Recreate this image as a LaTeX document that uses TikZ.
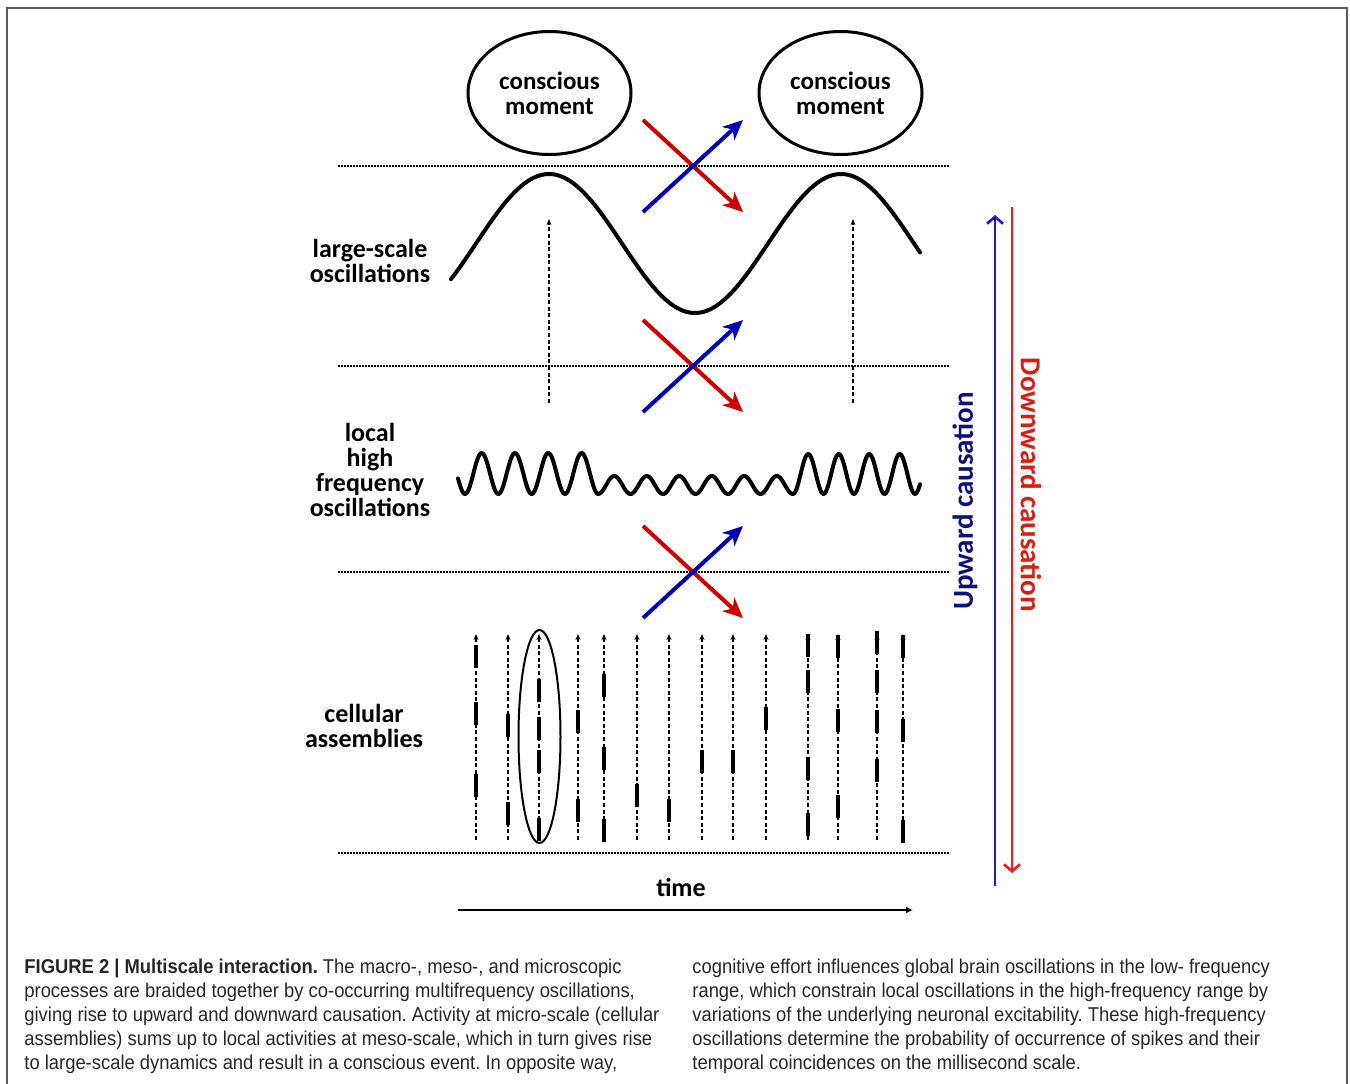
\documentclass[tikz,border=0pt]{standalone}
\usepackage{fontspec}
\setmainfont{Carlito}
\newfontfamily\capfont{Liberation Sans}[FakeStretch=0.92]
\usetikzlibrary{arrows.meta,positioning,shapes.geometric}
\frenchspacing
\definecolor{crossred}{RGB}{205,0,0}
\definecolor{crossblue}{RGB}{0,0,185}
\definecolor{sidered}{RGB}{240,25,25}
\definecolor{sideblue}{RGB}{25,25,200}
\definecolor{uptext}{RGB}{15,15,120}
\definecolor{downtext}{RGB}{215,30,20}
\tikzset{%
	scale label/.style={
		font=\fontsize{13}{12.5}\selectfont\bfseries,
		align=center,
		inner sep=0pt
	},
	moment/.style={
		ellipse,
		draw,
		line width=1.5pt,
		minimum width=81.5pt,
		minimum height=61.5pt,
		scale label,
		font=\fontsize{12.5}{12.5}\selectfont\bfseries
	},
	level line/.style={
		line width=0.6pt,
		dash pattern=on 0.8pt off 0.7pt
	},
	down arrow/.style={
		crossred,
		line width=2pt,
		-{Stealth[length=10pt,width=9pt,inset=3pt]}
	},
	up arrow/.style={
		crossblue,
		line width=2pt,
		-{Stealth[length=10pt,width=9pt,inset=3pt]}
	},
	pulse line/.style={
		line width=0.7pt,
		dash pattern=on 2pt off 1.3pt,
		-{Stealth[length=3pt,width=2.5pt]}
	},
	wave/.style={
		line width=2pt,
		line join=round,
		line cap=round
	},
	caption/.style={
		font=\capfont\fontsize{10}{12}\selectfont,
		text=black!85,
		inner sep=0pt
	},
}

\begin{document}
\begin{tikzpicture}[x=0.5pt, y=-0.5pt, >=stealth]
	
	\useasboundingbox (0,0) rectangle (1350,1083);
	\draw [black!65, line width=1pt] (7,1090) -- (7,8) -- (1347,8) -- (1347,1090);
	
	\node [moment] (moment-1) at (549.5,93) {conscious\\moment};
	\node [moment] (moment-2) at (840.5,93) {conscious\\moment};
	
	\foreach \y [count=\i] in {166,366,572,853}
	\draw [level line] (338,\y) coordinate (level-\i-w) -- (950,\y) coordinate (level-\i-e);
	
	\draw [wave] plot [domain=451:920, samples=150, smooth]
	(\x, {243.5-69.5*cos((\x-549)/292*360)});
	
	\foreach \x in {549,853}
	\draw [pulse line] (\x,403) -- (\x,219);
	
	\draw [wave] plot [domain=458:920, samples=400]
	(\x, {\x<598 ? 473.5-20.5*cos((\x-481.7)/33.3*360)
		: (\x<793 ? 485-9*cos((\x-614.25)/32.5*360)
		: 474-20*cos((\x-808.25)/30.5*360))});
	
	\foreach \y [count=\i] in {166,366,572} {
		\coordinate (cross-\i) at (693,\y);
		\draw [down arrow] ([shift={(-50,-46)}]cross-\i) -- ([shift={(50,46)}]cross-\i);
		\draw [up arrow] ([shift={(-50,46)}]cross-\i) -- ([shift={(50,-46)}]cross-\i);
	}
	
	\foreach \x/\ys [count=\i] in {476/{656,713,785}, 508/{725,813}, 539/{690,728,761,829},
		578/{721,810}, 604/{685,758,830}, 637/{795}, 669/{810}, 702/{761}, 733/{761},
		766/{718}, 808/{645,681,768,824}, 838/{646,720,806}, 877/{642,681,721,770},
		903/{646,730,831}} {
		\draw [pulse line] (\x,840) coordinate (cell-\i-s) -- (\x,634) coordinate (cell-\i-n);
		\foreach \yy in \ys
		\fill (\x-2,\yy-11.5) rectangle (\x+2,\yy+11.5);
	}
	\node [ellipse, draw, line width=1pt, minimum width=21pt, minimum height=106.5pt, inner sep=0pt] (sync) at (539.5,736.5) {};
	
	\node [scale label] (large-lbl) at (370,261) {large-scale\\oscillations};
	\node [scale label] (local-lbl) at (370,470) {local\\high\\frequency\\oscillations};
	\node [scale label] (cell-lbl) at (364,726) {cellular\\assemblies};
	
	\node [scale label] (time-lbl) at (681,887) {time};
	\draw [line width=1pt, -{Latex[length=3.5pt,width=3.5pt]}] (458,910) coordinate (time-s) -- (913,910) coordinate (time-e);
	
	\draw [sideblue, line width=1pt, -{Straight Barb[length=3.5pt,width=8pt,line width=1.3pt]}] (995,886) coordinate (up-s) -- (995,215) coordinate (up-e);
	\draw [sidered, line width=1pt, -{Straight Barb[length=3.5pt,width=8pt,line width=1.3pt]}] (1012,207) coordinate (down-s) -- (1012,873) coordinate (down-e);
	\node [rotate=90, text=uptext, font=\fontsize{14.5}{14.5}\selectfont\bfseries] (up-lbl) at (965,501) {Upward causation};
	\node [rotate=-90, text=downtext, font=\fontsize{14.5}{14.5}\selectfont\bfseries] (down-lbl) at (1031,485) {Downward causation};
	
	\foreach \l [count=\i] in {{\textbf{FIGURE 2 | Multiscale interaction.} The macro-, meso-, and microscopic},
		{processes are braided together by co-occurring multifrequency oscillations,},
		{giving rise to upward and downward causation. Activity at micro-scale (cellular},
		{assemblies) sums up to local activities at meso-scale, which in turn gives rise},
		{to large-scale dynamics and result in a conscious event. In opposite way,}}
	\node [caption, anchor=base west] (cap-left-\i) at (24,949+24*\i) {\l};
	
	\foreach \l [count=\i] in {{cognitive effort influences global brain oscillations in the low- frequency},
		{range, which constrain local oscillations in the high-frequency range by},
		{variations of the underlying neuronal excitability. These high-frequency},
		{oscillations determine the probability of occurrence of spikes and their},
		{temporal coincidences on the millisecond scale.}}
	\node [caption, anchor=base west] (cap-right-\i) at (692,949+24*\i) {\l};
	
\end{tikzpicture}
\end{document}
